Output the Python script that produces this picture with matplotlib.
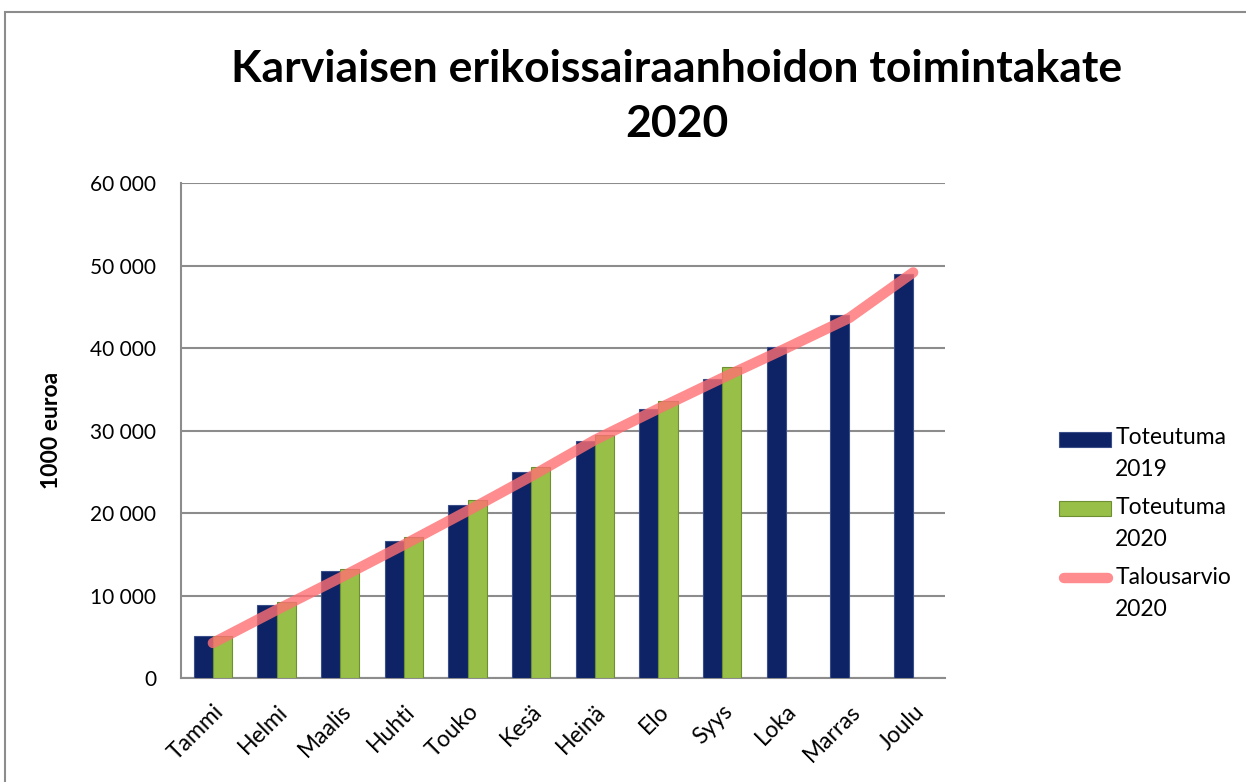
import numpy as np
import matplotlib.pyplot as plt
from matplotlib.patches import Rectangle
from matplotlib.lines import Line2D

months = ["Tammi", "Helmi", "Maalis", "Huhti", "Touko", "Kesä",
          "Heinä", "Elo", "Syys", "Loka", "Marras", "Joulu"]
toteutuma_2019 = [5100, 8900, 13000, 16700, 21000, 25000,
                  28800, 32700, 36300, 40200, 44000, 49000]
toteutuma_2020 = [5200, 9300, 13300, 17200, 21600, 25600,
                  29500, 33600, 37700]
talousarvio_2020 = [4300, 8300, 12200, 16200, 20300, 24500,
                    28900, 32700, 36400, 40000, 43700, 49200]
y_ticks = [0, 10000, 20000, 30000, 40000, 50000, 60000]

plt.rcParams['font.family'] = ['Lato', 'DejaVu Sans']

blue, blue_edge = "#0d2365", "#3a4f8a"
green, green_edge = "#98bf47", "#6f8f33"
red = "#ff6f73"

fig = plt.figure(figsize=(12.46, 7.82), dpi=100)
ax = fig.add_axes([0.1453, 0.1324, 0.6131, 0.6332])

x = np.arange(len(months))
w = 0.3
ax.bar(x - w / 2, toteutuma_2019, w, color=blue,
       edgecolor=blue_edge, linewidth=0.8, zorder=3)
ax.bar(x[:len(toteutuma_2020)] + w / 2, toteutuma_2020, w, color=green,
       edgecolor=green_edge, linewidth=0.8, zorder=3)
ax.plot(x, talousarvio_2020, color=red, alpha=0.8, linewidth=7.5,
        solid_capstyle="round", solid_joinstyle="round", zorder=4)

ax.set_xlim(-0.5, len(months) - 0.5)
ax.set_ylim(0, 60000)
ax.set_yticks(y_ticks)
ax.set_yticklabels([f"{v:,}".replace(",", " ") for v in y_ticks], fontsize=15)
ax.set_xticks(x)
ax.set_xticklabels(months, rotation=45, ha="right", rotation_mode="anchor",
                   fontsize=16.5)
ax.tick_params(axis="y", length=0, pad=18)
ax.tick_params(axis="x", length=0, pad=16)
ax.grid(axis="y", color="#8c8c8c", linewidth=1.5, zorder=0)
for s in ["top", "right"]:
    ax.spines[s].set_visible(False)
for s in ["left", "bottom"]:
    ax.spines[s].set_color("#8c8c8c")
    ax.spines[s].set_linewidth(1.5)

ax.set_ylabel("1000 euroa", fontsize=16.5, fontweight="bold", labelpad=20)

fig.text(0.543, 0.912, "Karviaisen erikoissairaanhoidon toimintakate",
         ha="center", va="center", fontsize=32, fontweight="bold")
fig.text(0.543, 0.842, "2020", ha="center", va="center",
         fontsize=32, fontweight="bold")

# legend drawn by hand: handle next to the first line of a two-line label
leg_x, leg_w, leg_h = 0.8499, 0.0417, 0.0192
text_x = 0.895
leg_labels = ["Toteutuma\n2019", "Toteutuma\n2020", "Talousarvio\n2020"]
leg_base = [0.4288, 0.3402, 0.2506]
leg_top = [0.454, 0.3648, 0.2753]
for (fc, ec), yb in zip([(blue, blue_edge), (green, green_edge)], leg_base[:2]):
    fig.patches.append(Rectangle((leg_x, yb), leg_w, leg_h, transform=fig.transFigure,
                                 facecolor=fc, edgecolor=ec, linewidth=0.8))
yl = leg_base[2] + 0.0105
fig.lines.append(Line2D([leg_x + 0.004, leg_x + leg_w - 0.002], [yl, yl],
                        transform=fig.transFigure, color=red, alpha=0.8,
                        linewidth=7.5, solid_capstyle="round"))
for lab, yt in zip(leg_labels, leg_top):
    fig.text(text_x, yt, lab, ha="left", va="top", fontsize=16.5,
             linespacing=1.65)

# outer chart frame
fig.patches.append(Rectangle((0.004, -0.01), 1.0, 0.995, transform=fig.transFigure,
                             fill=False, edgecolor="#8c8c8c", linewidth=1.5))

fig.savefig("out.png", dpi=100)
